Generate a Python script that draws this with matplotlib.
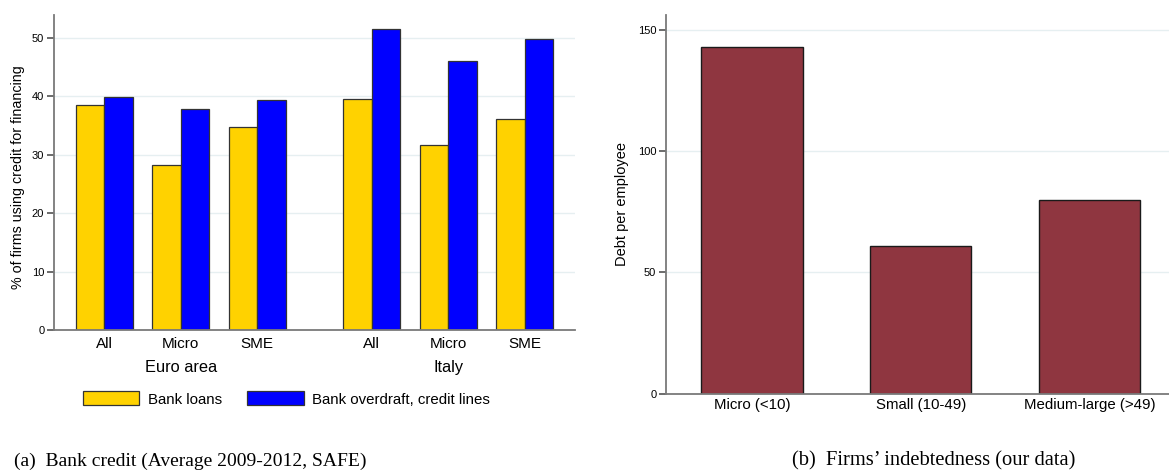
import matplotlib
matplotlib.use('Agg')
import matplotlib.pyplot as plt
import numpy as np

# left panel: share of firms using bank credit (SAFE, 2009-2012 average)
size_labels = ['All', 'Micro', 'SME', 'All', 'Micro', 'SME']
group_labels = ['Euro area', 'Italy']
bank_loans = [38.6, 28.3, 34.7, 39.6, 31.6, 36.1]
bank_overdraft = [39.9, 37.8, 39.4, 51.5, 46.0, 49.8]

# right panel: debt per employee by firm size
firm_classes = ['Micro (<10)', 'Small (10-49)', 'Medium-large (>49)']
debt_per_employee = [142.7, 61.0, 79.7]

plt.rcParams['font.family'] = ['Liberation Sans', 'DejaVu Sans']

W, H = 1169, 473
fig = plt.figure(figsize=(W / 100, H / 100), dpi=100)

def px_axes(x0, x1, y0, y1):
    # pixel box -> figure fraction
    return fig.add_axes([x0 / W, 1 - y1 / H, (x1 - x0) / W, (y1 - y0) / H])

axis_col = '#7a7a7a'
grid_col = '#e6eff1'
edge_col = '#333333'

def style(ax):
    for s in ['top', 'right']:
        ax.spines[s].set_visible(False)
    for s in ['left', 'bottom']:
        ax.spines[s].set_color(axis_col)
        ax.spines[s].set_linewidth(1.3)
    ax.yaxis.grid(True, color=grid_col, lw=1.0)
    ax.set_axisbelow(True)
    ax.tick_params(axis='y', length=5, width=1.1, color='#444444', labelsize=8, pad=2)
    ax.tick_params(axis='x', length=0, pad=5, labelsize=11)

# ---- panel (a)
ax1 = px_axes(54, 575, 14.7, 330)
pos = np.array([0, 1, 2, 3.5, 4.5, 5.5])
bw = 0.374
b1 = ax1.bar(pos - bw / 2, bank_loans, bw, color='#ffd200', edgecolor=edge_col, lw=0.9,
             label='Bank loans')
b2 = ax1.bar(pos + bw / 2, bank_overdraft, bw, color='#0000ff', edgecolor=edge_col, lw=0.9,
             label='Bank overdraft, credit lines')
ax1.set_xlim(-0.657, 6.157)
ax1.set_ylim(0, 54)
ax1.set_yticks([0, 10, 20, 30, 40, 50])
ax1.set_xticks(pos)
ax1.set_xticklabels(size_labels)
style(ax1)
for gx, g in zip([1, 4.5], group_labels):
    ax1.text(gx, -0.118, g, transform=ax1.get_xaxis_transform(), ha='center', va='center',
             fontsize=11.8)
fig.text(18.5 / W, 1 - 177.5 / H, '% of firms using credit for financing', rotation=90,
         ha='center', va='center', fontsize=10.3)
fig.legend(handles=[b1, b2], loc='center left', bbox_to_anchor=(82.7 / W, 1 - 399 / H),
           ncol=2, frameon=False, fontsize=10.8, handlelength=3.77, handleheight=1.05,
           handletextpad=0.58, columnspacing=1.67, borderpad=0, borderaxespad=0)

# ---- panel (b)
ax2 = px_axes(666, 1169, 14.7, 393.5)
xb = np.arange(len(firm_classes))
ax2.bar(xb, debt_per_employee, 0.6, color='#8f3640', edgecolor='#1a1a1a', lw=1.0)
ax2.set_xlim(-0.508, 2.469)
ax2.set_ylim(0, 156.2)
ax2.set_yticks([0, 50, 100, 150])
ax2.set_xticks(xb)
ax2.set_xticklabels(firm_classes)
style(ax2)
ax2.tick_params(axis='x', pad=3, labelsize=10.8)
fig.text(622 / W, 1 - 204 / H, 'Debt per employee', rotation=90,
         ha='center', va='center', fontsize=10.5)

# captions
fig.text(190.5 / W, 1 - 461 / H, '(a)  Bank credit (Average 2009-2012, SAFE)',
         family='Liberation Serif', fontsize=14.0, ha='center', va='center')
fig.text(933.5 / W, 1 - 461 / H, '(b)  Firms\u2019 indebtedness (our data)',
         family='Liberation Serif', fontsize=14.8, ha='center', va='center')

fig.savefig('out.png', dpi=100)
